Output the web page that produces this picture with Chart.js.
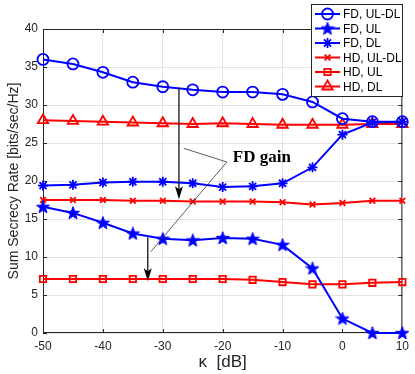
<!DOCTYPE html>
<html>
<head>
<meta charset="utf-8">
<script src="https://cdn.jsdelivr.net/npm/chart.js@4"></script>
<style>
    html, body { margin: 0; padding: 0; background: #fff; }
    #wrap { width: 415px; height: 374px; }
</style>
</head>
<body>
<div id="wrap"><canvas id="chart" width="415" height="374"></canvas></div>
<script>
// kappa in dB
const kappa = [-50, -45, -40, -35, -30, -25, -20, -15, -10, -5, 0, 5, 10];

const fdUlDl = [36.0, 35.4, 34.3, 33.0, 32.4, 32.0, 31.7, 31.7, 31.4, 30.4, 28.2, 27.8, 27.8];
const fdUl   = [16.6, 15.8, 14.5, 13.1, 12.4, 12.2, 12.5, 12.4, 11.6, 8.5, 1.9, 0, 0];
const fdDl   = [19.4, 19.5, 19.8, 19.9, 19.9, 19.7, 19.2, 19.3, 19.7, 21.8, 26.1, 27.7, 27.8];
const hdUlDl = [17.5, 17.5, 17.5, 17.4, 17.4, 17.3, 17.3, 17.3, 17.2, 16.9, 17.1, 17.4, 17.4];
const hdUl   = [7.1, 7.1, 7.1, 7.1, 7.1, 7.1, 7.1, 7.0, 6.7, 6.4, 6.4, 6.6, 6.7];
const hdDl   = [28.0, 27.9, 27.8, 27.7, 27.6, 27.5, 27.6, 27.5, 27.4, 27.4, 27.4, 27.5, 27.5];

const xTicks = [-50, -40, -30, -20, -10, 0, 10];
const yTicks = [0, 5, 10, 15, 20, 25, 30, 35, 40];

// annotation arrows / text (data coords)
const arrows = [
    {x: -27.3, from: 32.2, to: 17.6},
    {x: -32.5, from: 12.6, to: 6.8}
];
const gainLine = [[-26.5, 24.3], [-19.3, 22.5], [-32.0, 10.7]];
const gainText = {x: -18.3, y: 23.1, text: 'FD gain'};

const BLUE = '#0000ff';
const RED = '#ff0000';

// pentagram marker
function makePentagram(color) {
    const c = document.createElement('canvas');
    c.width = 14; c.height = 14;
    const g = c.getContext('2d');
    g.beginPath();
    for (let i = 0; i < 10; i++) {
        const r = i % 2 === 0 ? 6.8 : 2.8;
        const a = -Math.PI / 2 + i * Math.PI / 5;
        const px = 7 + r * Math.cos(a), py = 7.5 + r * Math.sin(a);
        if (i === 0) g.moveTo(px, py); else g.lineTo(px, py);
    }
    g.closePath();
    g.fillStyle = color;
    g.fill();
    g.strokeStyle = color;
    g.lineWidth = 1;
    g.stroke();
    return c;
}
const pentagram = makePentagram(BLUE);

function pts(arr) {
    return kappa.map((k, i) => ({x: k, y: arr[i]}));
}

function ds(label, arr, color, style, radius) {
    return {
        label: label,
        data: pts(arr),
        borderColor: color,
        backgroundColor: 'rgba(0,0,0,0)',
        borderWidth: 2,
        pointStyle: style,
        pointRadius: radius,
        pointBorderColor: color,
        pointBackgroundColor: style === pentagram ? color : 'rgba(0,0,0,0)',
        pointBorderWidth: 1.8,
        tension: 0,
        clip: false
    };
}

const datasets = [
    ds('FD, UL-DL', fdUlDl, BLUE, 'circle', 5.5),
    ds('FD, UL', fdUl, BLUE, pentagram, 6),
    ds('FD, DL', fdDl, BLUE, 'star', 5),
    ds('HD, UL-DL', hdUlDl, RED, 'crossRot', 4),
    ds('HD, UL', hdUl, RED, 'rect', 4.5),
    ds('HD, DL', hdDl, RED, 'triangle', 6)
];

const boxPlugin = {
    id: 'boxPlugin',
    beforeDatasetsDraw(chart) {
        const {ctx, chartArea: a, scales} = chart;
        ctx.save();
        ctx.strokeStyle = '#262626';
        ctx.lineWidth = 1;
        ctx.strokeRect(a.left + 0.5, a.top + 0.5, a.right - a.left - 1, a.bottom - a.top - 1);
        ctx.beginPath();
        xTicks.forEach(t => {
            const px = Math.round(scales.x.getPixelForValue(t)) + 0.5;
            ctx.moveTo(px, a.bottom); ctx.lineTo(px, a.bottom - 4);
            ctx.moveTo(px, a.top); ctx.lineTo(px, a.top + 4);
        });
        yTicks.forEach(t => {
            const py = Math.round(scales.y.getPixelForValue(t)) + 0.5;
            ctx.moveTo(a.left, py); ctx.lineTo(a.left + 4, py);
            ctx.moveTo(a.right, py); ctx.lineTo(a.right - 4, py);
        });
        ctx.stroke();
        ctx.restore();
    },
    afterDatasetsDraw(chart) {
        const {ctx, scales} = chart;
        const X = v => scales.x.getPixelForValue(v);
        const Y = v => scales.y.getPixelForValue(v);
        ctx.save();
        // arrows
        ctx.strokeStyle = '#000';
        ctx.fillStyle = '#000';
        arrows.forEach(ar => {
            const px = X(ar.x), y0 = Y(ar.from), y1 = Y(ar.to);
            ctx.lineWidth = 1.2;
            ctx.beginPath();
            ctx.moveTo(px, y0); ctx.lineTo(px, y1 - 10);
            ctx.stroke();
            ctx.beginPath();
            ctx.moveTo(px, y1);
            ctx.lineTo(px - 4, y1 - 13);
            ctx.lineTo(px, y1 - 10);
            ctx.lineTo(px + 4, y1 - 13);
            ctx.closePath();
            ctx.fill();
        });
        // pointer line to label
        ctx.strokeStyle = '#333';
        ctx.lineWidth = 0.8;
        ctx.beginPath();
        gainLine.forEach((p, i) => {
            if (i === 0) ctx.moveTo(X(p[0]), Y(p[1])); else ctx.lineTo(X(p[0]), Y(p[1]));
        });
        ctx.stroke();
        ctx.font = 'bold 17px "Liberation Serif", "Times New Roman", serif';
        ctx.fillStyle = '#000';
        ctx.textBaseline = 'middle';
        ctx.textAlign = 'left';
        ctx.fillText(gainText.text, X(gainText.x), Y(gainText.y));

        // legend
        const lx = 311, ly = 4, lw = 91, lh = 92;
        ctx.fillStyle = '#fff';
        ctx.fillRect(lx, ly, lw, lh);
        ctx.strokeStyle = '#262626';
        ctx.lineWidth = 1;
        ctx.strokeRect(lx + 0.5, ly + 0.5, lw, lh);
        ctx.font = '12px "Liberation Sans", Arial, sans-serif';
        ctx.textBaseline = 'middle';
        chart.data.datasets.forEach((d, i) => {
            const cy = ly + 10 + i * 14.5;
            ctx.strokeStyle = d.borderColor;
            ctx.lineWidth = 2;
            ctx.beginPath();
            ctx.moveTo(lx + 4, cy); ctx.lineTo(lx + 29, cy);
            ctx.stroke();
            ctx.lineWidth = d.pointBorderWidth;
            ctx.strokeStyle = d.pointBorderColor;
            ctx.fillStyle = d.pointBackgroundColor;
            Chart.helpers.drawPoint(ctx, {
                pointStyle: d.pointStyle,
                rotation: 0,
                radius: d.pointRadius,
                borderWidth: d.pointBorderWidth
            }, lx + 16.5, cy);
            ctx.fillStyle = '#000';
            ctx.fillText(d.label, lx + 32, cy + 1);
        });
        ctx.restore();
    }
};

const tickFont = {family: '"Liberation Sans", Arial, sans-serif', size: 12};

new Chart(document.getElementById('chart'), {
    type: 'line',
    data: {datasets: datasets},
    options: {
        responsive: false,
        animation: false,
        layout: {padding: {top: 29, right: 12, left: 0, bottom: 0}},
        plugins: {
            legend: {display: false},
            tooltip: {enabled: false}
        },
        elements: {point: {hoverRadius: 0}},
        scales: {
            x: {
                type: 'linear',
                min: -50,
                max: 10,
                afterFit: s => { s.height = 41; },
                afterBuildTicks: s => { s.ticks = xTicks.map(v => ({value: v})); },
                grid: {color: '#e3e3e3', drawTicks: false},
                border: {display: false},
                ticks: {font: tickFont, color: '#262626', padding: 6, maxRotation: 0},
                title: {
                    display: true,
                    text: 'κ  [dB]',
                    font: {family: '"Liberation Sans", Arial, sans-serif', size: 17},
                    color: '#262626',
                    padding: {top: 0, bottom: 1}
                }
            },
            y: {
                min: 0,
                max: 40,
                afterFit: s => { s.width = 43; },
                afterBuildTicks: s => { s.ticks = yTicks.map(v => ({value: v})); },
                grid: {color: '#e3e3e3', drawTicks: false},
                border: {display: false},
                ticks: {font: tickFont, color: '#262626', padding: 5},
                title: {
                    display: true,
                    text: 'Sum Secrecy Rate [bits/sec/Hz]',
                    font: {family: '"Liberation Sans", Arial, sans-serif', size: 14},
                    color: '#262626',
                    padding: {top: 6, bottom: 0}
                }
            }
        }
    },
    plugins: [boxPlugin]
});
</script>
</body>
</html>
